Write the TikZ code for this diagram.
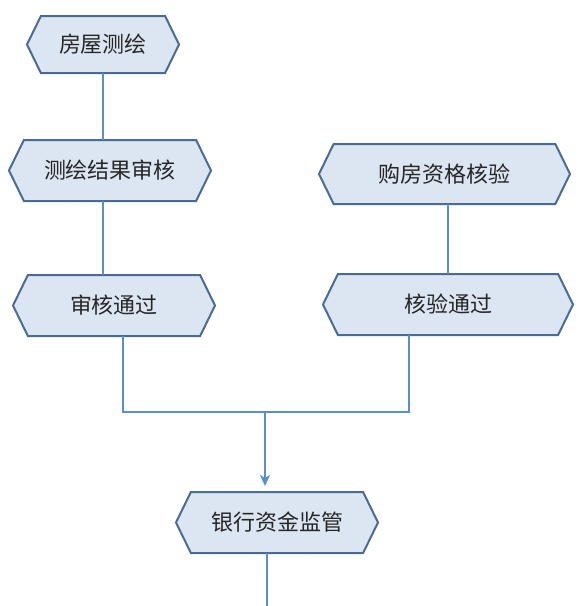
\documentclass[tikz,border=0pt]{standalone}
\usepackage{fontspec}
\setmainfont{Noto Sans CJK SC}
\usepackage{tikz}
\usetikzlibrary{arrows.meta,positioning,shapes.symbols}
\definecolor{boxfill}{HTML}{DCE6F2}
\definecolor{boxline}{HTML}{4A6B94}
\definecolor{linkblue}{HTML}{5B8FC8}
\tikzset{
    hexbox/.style={signal, signal to=west and east, signal pointer angle=128, draw=boxline, fill=boxfill, line width=2pt, outer sep=0pt, minimum height=61pt, inner sep=0pt, text centered, text=black!85, font=\fontsize{22}{22}\selectfont},
    pil/.style={draw=linkblue, line width=1.8pt},
}

\begin{document}
\begin{tikzpicture}[x=1pt, y=-1pt, node distance=67pt]
    \useasboundingbox (0,0) rectangle (584,606);
    % left column
    \node[hexbox, minimum width=152pt, minimum height=57pt] (survey) at (103,44.5) {房屋测绘};
    \node[hexbox, minimum width=202pt, below=67pt of survey, xshift=7pt] (check) {测绘结果审核};
    \node[hexbox, minimum width=202pt, below=74pt of check, xshift=4pt] (pass1) {审核通过};
    % right column
    \node[hexbox, minimum width=251pt, minimum height=60pt] (buy) at (444.5,174) {购房资格核验};
    \node[hexbox, minimum width=250pt, below=70pt of buy, xshift=3.5pt] (pass2) {核验通过};
    % bottom
    \node[hexbox, minimum width=202pt] (bank) at (277,522.5) {银行资金监管};

    \coordinate (join) at (265,412);
    \coordinate (exit) at (267,606);

    \draw[pil] (survey.south) -- (survey.south |- check.north);
    \draw[pil] ([xshift=-7pt]check.south) -- ([xshift=-7pt]check.south |- pass1.north);
    \draw[pil] ([xshift=3.5pt]buy.south) -- ([xshift=3.5pt]buy.south |- pass2.north);
    \draw[pil] ([xshift=9pt]pass1.south) |- (join) -| ([xshift=-39pt]pass2.south);
    \draw[pil, -{Stealth[length=11pt,width=10pt,inset=3pt]}, shorten >=6pt] (join) -- (join |- bank.north);
    \draw[pil] (bank.south -| exit) -- (exit);
\end{tikzpicture}
\end{document}
